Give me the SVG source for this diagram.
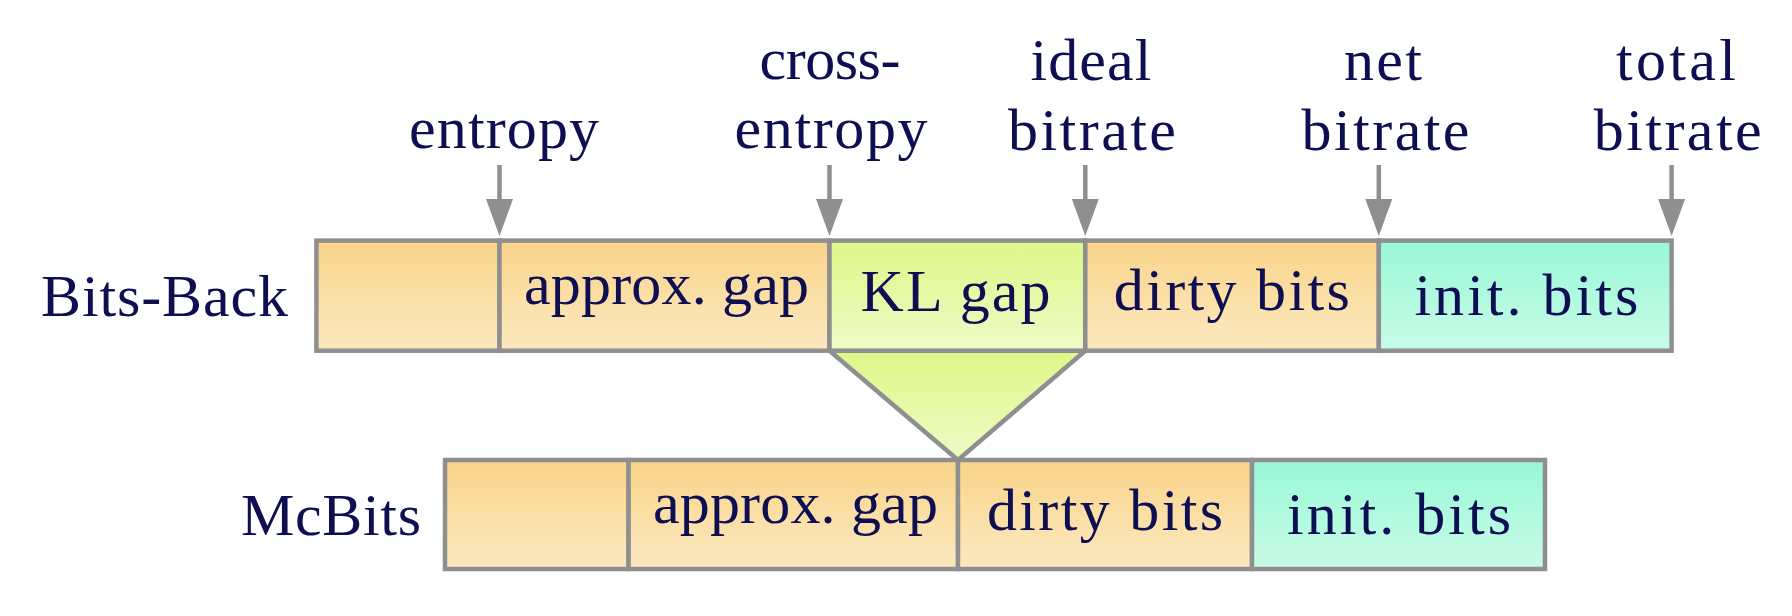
<svg xmlns="http://www.w3.org/2000/svg" width="1792" height="616" viewBox="0 0 1792 616">
  <defs>
    <linearGradient id="gOrange" x1="0" y1="0" x2="0" y2="1">
      <stop offset="0" stop-color="#f9d488"/>
      <stop offset="1" stop-color="#fce9c2"/>
    </linearGradient>
    <linearGradient id="gGreen" x1="0" y1="0" x2="0" y2="1">
      <stop offset="0" stop-color="#dcf887"/>
      <stop offset="1" stop-color="#eefbc6"/>
    </linearGradient>
    <linearGradient id="gTeal" x1="0" y1="0" x2="0" y2="1">
      <stop offset="0" stop-color="#98f8d7"/>
      <stop offset="1" stop-color="#c9fbe8"/>
    </linearGradient>
    <marker id="head" viewBox="0 -13.5 37 27" refX="1" refY="0" markerWidth="37" markerHeight="27" markerUnits="userSpaceOnUse" orient="auto">
      <path d="M0,-13.5 L37,0 L0,13.5 Z" fill="#8f8f8f"/>
    </marker>
    <style>
      .cell { stroke: #8f8f8f; stroke-width: 4.5; stroke-linejoin: miter; }
      .or { fill: url(#gOrange); }
      .gr { fill: url(#gGreen); }
      .te { fill: url(#gTeal); }
      .lbl { font-family: "Liberation Serif", "DejaVu Serif", serif; font-size: 60px; fill: #0e0e52; text-anchor: middle; }
      .arrow { stroke: #8f8f8f; stroke-width: 4.5; fill: none; marker-end: url(#head); }
    </style>
  </defs>
  <rect x="0" y="0" width="1792" height="616" fill="#ffffff"/>

  <!-- Row labels -->
  <g id="label-bitsback"><text class="lbl" x="164.5" y="316" textLength="247" lengthAdjust="spacing">Bits-Back</text></g>
  <g id="label-mcbits"><text class="lbl" x="331" y="535" textLength="180" lengthAdjust="spacing">McBits</text></g>

  <!-- KL gap funnel (drawn before cells so cell strokes sit on top) -->
  <g id="kl-funnel">
    <path class="cell gr" d="M829.5,350.7 L1085.3,350.7 L958,460 Z"/>
  </g>

  <!-- Bits-Back bar -->
  <g id="bb-entropy"><rect class="cell or" x="316.4" y="240.6" width="183.1" height="110.1"/></g>
  <g id="bb-approx-gap"><rect class="cell or" x="499.5" y="240.6" width="330" height="110.1"/>
    <text class="lbl" x="666.5" y="304" textLength="285" lengthAdjust="spacing">approx. gap</text></g>
  <g id="bb-kl-gap"><rect class="cell gr" x="829.5" y="240.6" width="255.8" height="110.1"/>
    <text class="lbl" x="955.6" y="311" textLength="190" lengthAdjust="spacing">KL gap</text></g>
  <g id="bb-dirty-bits"><rect class="cell or" x="1085.3" y="240.6" width="293.5" height="110.1"/>
    <text class="lbl" x="1231.8" y="310" textLength="236" lengthAdjust="spacing">dirty bits</text></g>
  <g id="bb-init-bits"><rect class="cell te" x="1378.8" y="240.6" width="292.8" height="110.1"/>
    <text class="lbl" x="1526.4" y="315" textLength="224" lengthAdjust="spacing">init. bits</text></g>

  <!-- McBits bar -->
  <g id="mc-entropy"><rect class="cell or" x="445" y="460" width="183.6" height="109"/></g>
  <g id="mc-approx-gap"><rect class="cell or" x="628.6" y="460" width="329.4" height="109"/>
    <text class="lbl" x="795.4" y="523" textLength="285" lengthAdjust="spacing">approx. gap</text></g>
  <g id="mc-dirty-bits"><rect class="cell or" x="958" y="460" width="294" height="109"/>
    <text class="lbl" x="1105" y="530" textLength="236" lengthAdjust="spacing">dirty bits</text></g>
  <g id="mc-init-bits"><rect class="cell te" x="1252" y="460" width="293" height="109"/>
    <text class="lbl" x="1399" y="534" textLength="224" lengthAdjust="spacing">init. bits</text></g>

  <!-- Marker labels -->
  <g id="m-entropy"><text class="lbl" x="504" y="147.5" textLength="190" lengthAdjust="spacing">entropy</text></g>
  <g id="m-cross-entropy">
    <text class="lbl" x="830" y="78.5" textLength="141" lengthAdjust="spacing">cross-</text>
    <text class="lbl" x="831" y="147.5" textLength="193" lengthAdjust="spacing">entropy</text>
  </g>
  <g id="m-ideal-bitrate">
    <text class="lbl" x="1091" y="80" textLength="121" lengthAdjust="spacing">ideal</text>
    <text class="lbl" x="1092" y="150" textLength="168" lengthAdjust="spacing">bitrate</text>
  </g>
  <g id="m-net-bitrate">
    <text class="lbl" x="1383" y="80" textLength="78" lengthAdjust="spacing">net</text>
    <text class="lbl" x="1385.5" y="150" textLength="168" lengthAdjust="spacing">bitrate</text>
  </g>
  <g id="m-total-bitrate">
    <text class="lbl" x="1676" y="80" textLength="120" lengthAdjust="spacing">total</text>
    <text class="lbl" x="1677.7" y="150" textLength="168" lengthAdjust="spacing">bitrate</text>
  </g>

  <!-- Connectors -->
  <g id="connectors">
    <line class="arrow" x1="499.5" y1="165" x2="499.5" y2="200"/>
    <line class="arrow" x1="829.5" y1="165" x2="829.5" y2="200"/>
    <line class="arrow" x1="1085.3" y1="165" x2="1085.3" y2="200"/>
    <line class="arrow" x1="1378.8" y1="165" x2="1378.8" y2="200"/>
    <line class="arrow" x1="1671.6" y1="165" x2="1671.6" y2="200"/>
  </g>
</svg>
